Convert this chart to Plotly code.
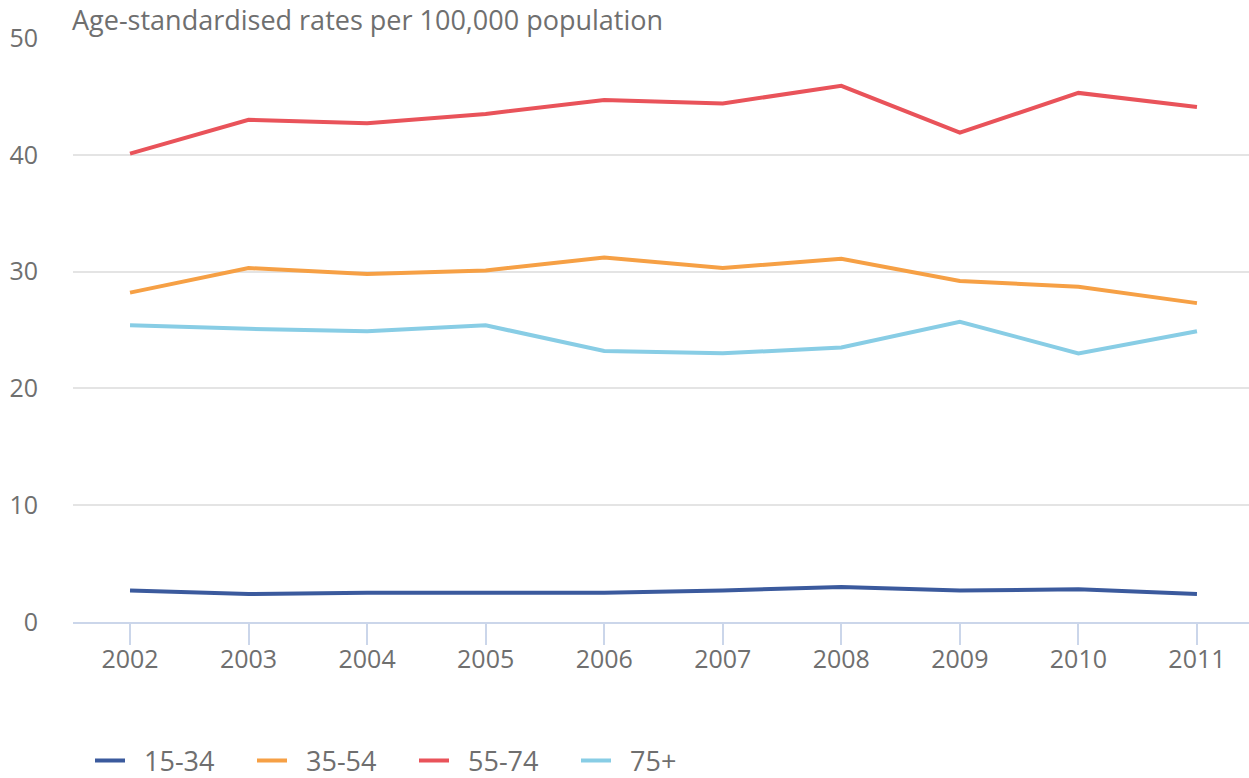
import plotly.graph_objects as go

years = [2002, 2003, 2004, 2005, 2006, 2007, 2008, 2009, 2010, 2011]
age_15_34 = [2.7, 2.4, 2.5, 2.5, 2.5, 2.7, 3.0, 2.7, 2.8, 2.4]
age_35_54 = [28.2, 30.3, 29.8, 30.1, 31.2, 30.3, 31.1, 29.2, 28.7, 27.3]
age_55_74 = [40.1, 43.0, 42.7, 43.5, 44.7, 44.4, 45.9, 41.9, 45.3, 44.1]
age_75_plus = [25.4, 25.1, 24.9, 25.4, 23.2, 23.0, 23.5, 25.7, 23.0, 24.9]

series = [
    ("15-34", age_15_34, "#3b5a9d"),
    ("35-54", age_35_54, "#f6a045"),
    ("55-74", age_55_74, "#e9535a"),
    ("75+", age_75_plus, "#88cde5"),
]

fig = go.Figure()
for name, vals, col in series:
    fig.add_trace(go.Scatter(x=years, y=vals, name="\u00a0\u00a0" + name, mode="lines",
                             line=dict(color=col, width=4)))

font = "Open Sans, sans-serif"
grey = "#6f6f6f"
fig.update_layout(
    width=1249, height=778,
    margin=dict(l=73, r=0, t=38, b=156),
    paper_bgcolor="white", plot_bgcolor="white",
    font=dict(family=font, color=grey, size=25),
    showlegend=True,
    legend=dict(orientation="h", xref="container", yref="container",
                x=90 / 1249, xanchor="left", y=17 / 778, yanchor="middle",
                font=dict(size=27, color=grey), bgcolor="rgba(0,0,0,0)",
                entrywidth=117),
    xaxis=dict(range=[2001.519, 2011.439], tickmode="array", tickvals=years,
               ticktext=[str(y) for y in years], showgrid=False, zeroline=False,
               showline=True, linecolor="#cbd6ea", linewidth=2, automargin=False,
               ticks="outside", ticklen=21, tickwidth=2, tickcolor="#cbd6ea",
               ticklabelstandoff=-7,
               tickfont=dict(size=25, color=grey)),
    yaxis=dict(range=[0, 50], tickvals=[0, 10, 20, 30, 40, 50], showgrid=True,
               gridcolor="#e4e4e4", gridwidth=2, zeroline=False, showline=False,
               automargin=False,
               ticks="", ticklabelstandoff=34, tickfont=dict(size=25, color=grey)),
    annotations=[dict(text="Age-standardised rates per 100,000 population",
                      xref="paper", yref="paper", x=0, y=1, xanchor="left",
                      yanchor="bottom", yshift=-2, xshift=-3, showarrow=False,
                      font=dict(size=27, color=grey, family=font))],
)

fig.write_html("out.html", config={"displayModeBar": False},
               post_script="document.body.style.margin='0';document.body.style.overflow='hidden';")
